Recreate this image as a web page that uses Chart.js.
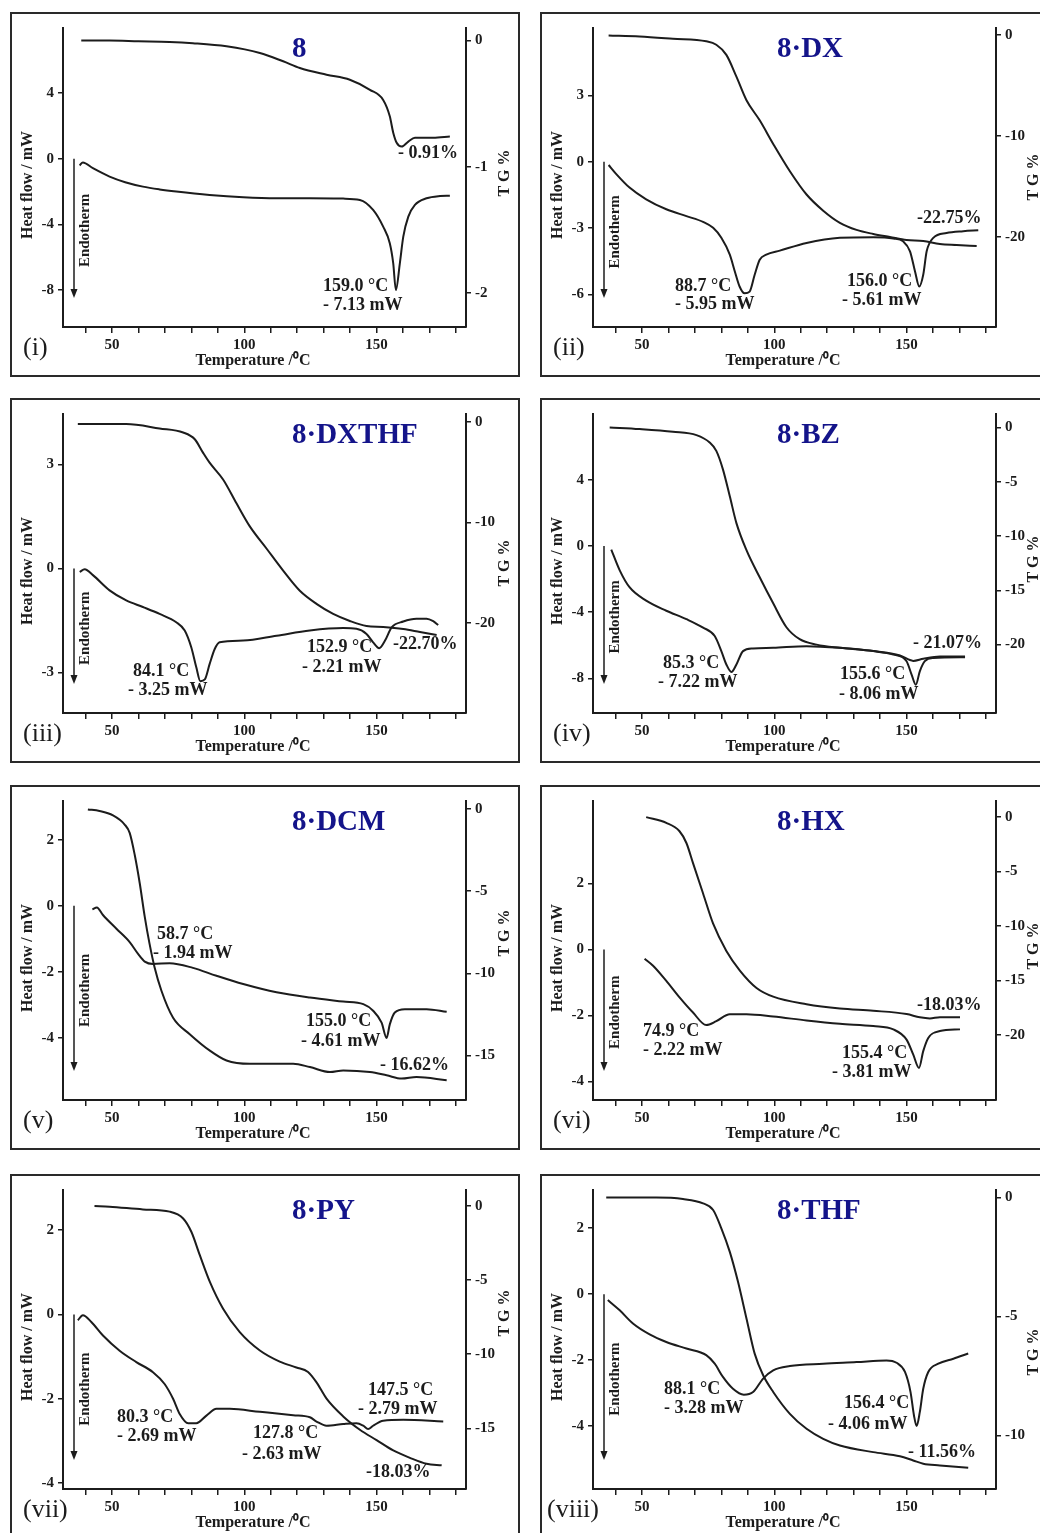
<!DOCTYPE html>
<html>
<head>
<meta charset="utf-8">
<script src="https://cdn.jsdelivr.net/npm/chart.js@4.4.1/dist/chart.umd.min.js"></script>
<style>
html, body { margin: 0; padding: 0; background: #fff; overflow: hidden; }
#page { position: relative; width: 1040px; height: 1533px; overflow: hidden; background: #fff; }
.box { position: absolute; width: 506px; height: 361px; border: 2px solid #2a2a2a; background: #fff; }
.box canvas { display: block; }
</style>
</head>
<body>
<div id="page"></div>
<script>
/* temperature ticks shared by every panel */
const xTicks = [40, 50, 60, 70, 80, 90, 100, 110, 120, 130, 140, 150, 160, 170, 180];

/* (i) 8 */
const dscTempI = [37.8, 39, 42.8, 49.1, 55, 61.7, 68, 74.3, 86.9, 99.6, 112.2, 124.8, 137.4, 143.7, 148.7, 152.5, 155, 156.3, 157.3, 158.8, 160.1, 162, 164.5, 168.9, 174, 177.7];
const dscI = [-0.40, -0.22, -0.57, -1.08, -1.42, -1.69, -1.86, -1.99, -2.20, -2.34, -2.40, -2.40, -2.42, -2.50, -3.11, -4.13, -5.14, -6.36, -7.99, -6.36, -4.74, -3.52, -2.80, -2.40, -2.26, -2.24];
const tgTempI = [38.4, 49.1, 60, 71.8, 80.6, 93.3, 105.9, 114.7, 121, 131.1, 139.9, 147.5, 152.5, 155, 156.3, 157.6, 159.5, 162, 164.5, 171.4, 177.7];
const tgI = [0, 0, -0.005, -0.01, -0.02, -0.045, -0.098, -0.164, -0.217, -0.27, -0.31, -0.39, -0.47, -0.60, -0.73, -0.81, -0.84, -0.80, -0.77, -0.77, -0.76];
const hfTicksI = [-8, -4, 0, 4];
const tgTicksI = [-2, -1, 0];

/* (ii) 8·DX */
const dscTempII = [37.4, 40.3, 45.3, 51.6, 59.2, 66.8, 73.1, 76.9, 80, 83.2, 85.1, 86.9, 88.8, 90.7, 92.6, 94.5, 97, 102.1, 112.2, 124.8, 137.4, 145, 148.7, 151.3, 153.2, 154.8, 156.3, 157.6, 160.1, 165.1, 171.4, 177.1];
const dscII = [-0.15, -0.56, -1.17, -1.70, -2.15, -2.46, -2.72, -2.99, -3.44, -4.20, -4.96, -5.64, -5.95, -5.87, -5.11, -4.43, -4.20, -4.02, -3.67, -3.44, -3.41, -3.47, -3.60, -4.05, -4.96, -5.64, -5.11, -4.05, -3.44, -3.22, -3.14, -3.10];
const tgTempII = [37.4, 49.1, 61.7, 74.3, 78.1, 81.9, 85.7, 89.5, 94.5, 99.6, 105.9, 112.2, 118.5, 124.8, 131.1, 137.4, 143.7, 150, 156.3, 162.6, 168.9, 176.5];
const tgII = [-0.07, -0.17, -0.40, -0.66, -1.0, -2.0, -4.15, -6.48, -8.47, -10.8, -13.5, -15.8, -17.4, -18.6, -19.3, -19.7, -20.0, -20.3, -20.4, -20.7, -20.8, -20.9];
const hfTicksII = [-6, -3, 0, 3];
const tgTicksII = [-20, -10, 0];

/* (iii) 8·DXTHF */
const dscTempIII = [37.8, 39.7, 42.8, 49.1, 55.4, 61.7, 68, 74.3, 77.5, 80, 81.9, 83.4, 85.1, 86.9, 88.8, 90.7, 99.6, 112.2, 124.8, 137.4, 142.4, 146.2, 148.7, 151, 153.2, 155.7, 160.1, 165.1, 168.9, 171.4, 173.3];
const dscIII = [-0.10, -0.02, -0.19, -0.63, -0.92, -1.11, -1.31, -1.55, -1.79, -2.28, -2.86, -3.25, -3.20, -2.76, -2.33, -2.13, -2.08, -1.94, -1.79, -1.72, -1.74, -1.89, -2.13, -2.30, -2.08, -1.70, -1.53, -1.45, -1.45, -1.52, -1.63];
const tgTempIII = [37.1, 55.4, 68, 76.9, 81.3, 84.4, 86.9, 92, 97, 102.1, 108.4, 114.7, 121, 127.3, 133.6, 139.9, 146.2, 152.5, 160.1, 166.4, 172.7];
const tgIII = [-0.23, -0.23, -0.67, -1.07, -1.74, -3.07, -4.07, -5.74, -8.08, -10.4, -12.6, -14.8, -16.8, -18.1, -19.1, -19.8, -20.3, -20.4, -20.6, -20.9, -21.2];
const hfTicksIII = [-3, 0, 3];
const tgTicksIII = [-20, -10, 0];

/* (iv) 8·BZ */
const dscTempIV = [38.4, 41.6, 45.3, 51.6, 59.2, 66.8, 73.1, 77.5, 80, 81.9, 83.8, 85.7, 88.2, 92, 99.6, 112.2, 124.8, 137.4, 145, 150, 151.9, 153.5, 155, 156.9, 160.1, 172.1];
const dscIV = [-0.22, -1.48, -2.5, -3.31, -3.92, -4.43, -4.94, -5.45, -6.36, -7.17, -7.62, -7.17, -6.36, -6.20, -6.16, -6.06, -6.16, -6.36, -6.57, -6.97, -7.78, -8.39, -7.58, -6.97, -6.77, -6.73];
const tgTempIV = [37.8, 49.1, 61.7, 70.6, 75.6, 78.1, 80.6, 83.2, 85.7, 89.5, 94.5, 99.6, 104.6, 109.6, 116, 124.8, 137.4, 147.5, 152.5, 156.3, 162.6, 172.1];
const tgIV = [0, -0.15, -0.40, -0.71, -1.39, -2.16, -3.86, -6.34, -8.81, -11.3, -13.8, -16.2, -18.4, -19.5, -20.0, -20.3, -20.6, -21.0, -21.5, -21.3, -21.1, -21.1];
const hfTicksIV = [-8, -4, 0, 4];
const tgTicksIV = [-20, -15, -10, -5, 0];

/* (v) 8·DCM */
const dscTempV = [42.6, 44.3, 46.6, 51.6, 56.7, 59.8, 62.4, 65.5, 71.8, 80.6, 89.5, 99.6, 112.2, 124.8, 137.4, 145, 148.7, 151.9, 153.8, 155, 156.9, 160.7, 168.9, 176.5];
const dscV = [-0.11, -0.05, -0.28, -0.69, -1.10, -1.45, -1.69, -1.76, -1.74, -1.88, -2.12, -2.37, -2.62, -2.78, -2.90, -2.98, -3.18, -3.54, -4.0, -3.59, -3.23, -3.13, -3.13, -3.21];
const tgTempV = [40.9, 45.3, 50.4, 54.8, 56.7, 58.6, 60.5, 62.4, 64.2, 66.1, 68.7, 73.1, 79.4, 87, 93.3, 102.1, 118.5, 124.8, 132.4, 137.4, 147.5, 153.8, 159.5, 165.1, 176.5];
const tgV = [-0.04, -0.14, -0.41, -0.96, -1.47, -2.80, -4.53, -6.57, -8.20, -9.63, -11.06, -12.7, -13.7, -14.7, -15.3, -15.5, -15.5, -15.7, -16.0, -15.9, -16.0, -16.2, -16.4, -16.3, -16.5];
const hfTicksV = [-4, -2, 0, 2];
const tgTicksV = [-15, -10, -5, 0];

/* (vi) 8·HX */
const dscTempVI = [51, 54.2, 59.2, 64.2, 69.3, 74.3, 78.1, 83.2, 89.5, 99.6, 112.2, 124.8, 137.4, 145, 150, 152.5, 154.7, 156.3, 158.2, 162.6, 170.2];
const dscVI = [-0.28, -0.49, -0.95, -1.45, -1.91, -2.29, -2.17, -1.96, -1.96, -2.03, -2.15, -2.25, -2.32, -2.42, -2.73, -3.18, -3.59, -3.08, -2.68, -2.47, -2.42];
const tgTempVI = [51.6, 59.2, 64.2, 66.8, 69.3, 73.1, 76.9, 81.9, 87, 93.3, 99.6, 112.2, 124.8, 137.4, 150, 155, 158.8, 162.6, 170.2];
const tgVI = [0, -0.53, -1.30, -2.38, -4.23, -7.02, -9.80, -12.3, -14.1, -15.7, -16.5, -17.2, -17.6, -17.8, -18.1, -18.4, -18.5, -18.4, -18.4];
const hfTicksVI = [-4, -2, 0, 2];
const tgTicksVI = [-20, -15, -10, -5, 0];

/* (vii) 8·PY */
const dscTempVII = [37.1, 39, 42.2, 46.6, 52.9, 59.2, 65.5, 69.9, 73.1, 75.6, 78.8, 81.9, 85.7, 89.5, 94.5, 105.9, 118.5, 124.8, 127.3, 131.1, 137.4, 142.4, 145, 146.8, 148.7, 152.5, 160.1, 175.2];
const dscVII = [-0.14, -0.02, -0.18, -0.50, -0.86, -1.13, -1.37, -1.65, -2.0, -2.36, -2.58, -2.58, -2.40, -2.24, -2.24, -2.31, -2.39, -2.44, -2.54, -2.64, -2.60, -2.58, -2.64, -2.72, -2.64, -2.52, -2.50, -2.54];
const tgTempVII = [43.4, 49.1, 61.7, 71.8, 76.9, 80, 83.2, 87, 92, 98.3, 105.9, 113.4, 119.7, 124.1, 127.3, 131.1, 137.4, 143.7, 150, 156.3, 162.6, 168.9, 174.6];
const tgVII = [0, -0.05, -0.23, -0.38, -0.84, -1.74, -3.32, -5.12, -6.93, -8.51, -9.75, -10.5, -10.9, -11.2, -11.9, -13.0, -14.2, -15.1, -15.8, -16.5, -17.0, -17.4, -17.5];
const hfTicksVII = [-4, -2, 0, 2];
const tgTicksVII = [-15, -10, -5, 0];

/* (viii) 8·THF */
const dscTempVIII = [37.1, 41.6, 46.6, 52.9, 59.2, 66.8, 74.3, 77.5, 80.6, 84.4, 88.5, 92, 95.8, 99.6, 105.9, 118.5, 131.1, 142.4, 146.2, 149.4, 151.5, 152.8, 153.8, 155, 156.3, 158.2, 162, 167.7, 173.3];
const dscVIII = [-0.18, -0.49, -0.89, -1.22, -1.45, -1.65, -1.85, -2.11, -2.51, -2.87, -3.05, -2.97, -2.56, -2.31, -2.18, -2.11, -2.06, -2.01, -2.08, -2.36, -2.97, -3.68, -4.0, -3.58, -2.87, -2.36, -2.11, -1.96, -1.80];
const tgTempVIII = [36.5, 55.4, 65.5, 73.1, 76.9, 80, 83.2, 86.3, 89.5, 92.6, 95.8, 99.6, 105.9, 112.2, 118.5, 124.8, 137.4, 147.5, 152.5, 156.3, 162.6, 173.3];
const tgVIII = [0, 0, -0.06, -0.24, -0.52, -1.29, -2.28, -3.54, -5.08, -6.56, -7.47, -8.17, -9.09, -9.72, -10.14, -10.42, -10.70, -10.87, -11.05, -11.19, -11.26, -11.36];
const hfTicksVIII = [-4, -2, 0, 2];
const tgTicksVIII = [-10, -5, 0];

const SERIF = '"Liberation Serif", "Times New Roman", serif';
const INK = '#1c1c1c';
const NAVY = '#14148a';
Chart.defaults.font.family = SERIF;
Chart.defaults.color = INK;

const colX = [10, 540];
const rowY = [12, 398, 785, 1174];

const panels = [
  { tag: '(i)', tagX: 11, name: '8', col: 0, row: 0, dscT: dscTempI, dsc: dscI, tgT: tgTempI, tg: tgI,
    hfTicks: hfTicksI, tgTicks: tgTicksI, hf: [-10.24, 7.97], tgR: [-2.27, 0.10], tgTitleY: 159,
    notes: [['- 0.91%', 386, 144], ['159.0 °C', 311, 277], ['- 7.13 mW', 311, 296]] },
  { tag: '(ii)', tagX: 11, name: '8·DX', col: 1, row: 0, dscT: dscTempII, dsc: dscII, tgT: tgTempII, tg: tgII,
    hfTicks: hfTicksII, tgTicks: tgTicksII, hf: [-7.47, 6.04], tgR: [-28.9, 0.66], tgTitleY: 163,
    notes: [['-22.75%', 375, 209], ['88.7 °C', 133, 277], ['- 5.95 mW', 133, 295], ['156.0 °C', 305, 272], ['- 5.61 mW', 300, 291]] },
  { tag: '(iii)', tagX: 11, name: '8·DXTHF', col: 0, row: 1, dscT: dscTempIII, dsc: dscIII, tgT: tgTempIII, tg: tgIII,
    hfTicks: hfTicksIII, tgTicks: tgTicksIII, hf: [-4.17, 4.46], tgR: [-28.95, 0.77], tgTitleY: 163,
    notes: [['84.1 °C', 121, 276], ['- 3.25 mW', 116, 295], ['152.9 °C', 295, 252], ['- 2.21 mW', 290, 272], ['-22.70%', 381, 249]] },
  { tag: '(iv)', tagX: 11, name: '8·BZ', col: 1, row: 1, dscT: dscTempIV, dsc: dscIV, tgT: tgTempIV, tg: tgIV,
    hfTicks: hfTicksIV, tgTicks: tgTicksIV, hf: [-10.1, 7.97], tgR: [-26.3, 1.24], tgTitleY: 159,
    notes: [['- 21.07%', 371, 248], ['85.3 °C', 121, 268], ['- 7.22 mW', 116, 287], ['155.6 °C', 298, 279], ['- 8.06 mW', 297, 299]] },
  { tag: '(v)', tagX: 11, name: '8·DCM', col: 0, row: 2, dscT: dscTempV, dsc: dscV, tgT: tgTempV, tg: tgV,
    hfTicks: hfTicksV, tgTicks: tgTicksV, hf: [-5.88, 3.17], tgR: [-17.7, 0.47], tgTitleY: 146,
    notes: [['58.7 °C', 145, 152], ['- 1.94 mW', 141, 171], ['155.0 °C', 294, 239], ['- 4.61 mW', 289, 259], ['- 16.62%', 368, 283]] },
  { tag: '(vi)', tagX: 11, name: '8·HX', col: 1, row: 2, dscT: dscTempVI, dsc: dscVI, tgT: tgTempVI, tg: tgVI,
    hfTicks: hfTicksVI, tgTicks: tgTicksVI, hf: [-4.56, 4.50], tgR: [-26.0, 1.48], tgTitleY: 159,
    notes: [['-18.03%', 375, 223], ['74.9 °C', 101, 249], ['- 2.22 mW', 101, 268], ['155.4 °C', 300, 271], ['- 3.81 mW', 290, 290]] },
  { tag: '(vii)', tagX: 11, name: '8·PY', col: 0, row: 3, dscT: dscTempVII, dsc: dscVII, tgT: tgTempVII, tg: tgVII,
    hfTicks: hfTicksVII, tgTicks: tgTicksVII, hf: [-4.14, 2.95], tgR: [-19.1, 1.08], tgTitleY: 137,
    notes: [['80.3 °C', 105, 246], ['- 2.69 mW', 105, 265], ['127.8 °C', 241, 262], ['- 2.63 mW', 230, 283],
            ['147.5 °C', 356, 219], ['- 2.79 mW', 346, 238], ['-18.03%', 354, 301]] },
  { tag: '(viii)', tagX: 5, name: '8·THF', col: 1, row: 3, dscT: dscTempVIII, dsc: dscVIII, tgT: tgTempVIII, tg: tgVIII,
    hfTicks: hfTicksVIII, tgTicks: tgTicksVIII, hf: [-5.91, 3.16], tgR: [-12.25, 0.32], tgTitleY: 176,
    notes: [['88.1 °C', 122, 218], ['- 3.28 mW', 122, 237], ['156.4 °C', 302, 232], ['- 4.06 mW', 286, 253], ['- 11.56%', 366, 281]] }
];

function toPoints(ts, vs) {
  return ts.map((t, i) => ({ x: t, y: vs[i] }));
}

function setTicks(list) {
  return scale => { scale.ticks = list.map(v => ({ value: v })); };
}

function vText(c, txt, x, y) {
  c.save();
  c.translate(x, y);
  c.rotate(-Math.PI / 2);
  c.textAlign = 'center';
  c.textBaseline = 'middle';
  c.fillText(txt, 0, 0);
  c.restore();
}

// titles, labels, arrow and peak notes
function makeDecor(p) {
  return {
    id: 'decor',
    afterDraw(chart) {
      const c = chart.ctx;
      c.save();
      c.fillStyle = INK;
      c.strokeStyle = INK;

      c.font = 'bold 16px ' + SERIF;
      vText(c, 'Heat flow / mW', 16, 171);
      vText(c, 'T G %', p.col ? 492 : 493, p.tgTitleY);
      c.textAlign = 'center';
      c.textBaseline = 'alphabetic';
      c.fillText('Temperature /\u2070C', 241, 351);

      c.font = '26px ' + SERIF;
      c.textAlign = 'left';
      c.fillText(p.tag, p.tagX, 341);

      c.fillStyle = NAVY;
      c.font = 'bold 29px ' + SERIF;
      c.fillText(p.name, p.col ? 235 : 280, 43);

      // endotherm arrow from the 0 mW level down
      c.fillStyle = INK;
      const y0 = chart.scales.y.getPixelForValue(0);
      const ax = 62, ay = 284;
      c.lineWidth = 1.5;
      c.beginPath();
      c.moveTo(ax, y0);
      c.lineTo(ax, ay - 6);
      c.stroke();
      c.beginPath();
      c.moveTo(ax - 3.5, ay - 9);
      c.lineTo(ax + 3.5, ay - 9);
      c.lineTo(ax, ay);
      c.closePath();
      c.fill();
      c.font = 'bold 15px ' + SERIF;
      vText(c, 'Endotherm', 73, (y0 + ay) / 2 + 2);

      c.font = 'bold 18px ' + SERIF;
      c.textAlign = 'left';
      c.textBaseline = 'alphabetic';
      p.notes.forEach(n => c.fillText(n[0], n[1], n[2]));
      c.restore();
    }
  };
}

const axisGrid = { display: true, drawOnChartArea: false, drawTicks: true, tickLength: 5, color: INK, lineWidth: 1.5 };
const axisBorder = { display: true, color: INK, width: 2 };
const tickFont = { family: SERIF, size: 15, weight: 'bold' };

panels.forEach(p => {
  const box = document.createElement('div');
  box.className = 'box';
  box.style.left = colX[p.col] + 'px';
  box.style.top = rowY[p.row] + 'px';
  const cv = document.createElement('canvas');
  cv.width = 506;
  cv.height = 361;
  box.appendChild(cv);
  document.getElementById('page').appendChild(box);

  new Chart(cv.getContext('2d'), {
    type: 'line',
    data: {
      datasets: [
        { label: 'Heat flow', data: toPoints(p.dscT, p.dsc), yAxisID: 'y',
          borderColor: INK, borderWidth: 2, pointRadius: 0, fill: false, cubicInterpolationMode: 'monotone' },
        { label: 'TG', data: toPoints(p.tgT, p.tg), yAxisID: 'y1',
          borderColor: INK, borderWidth: 2, pointRadius: 0, fill: false, cubicInterpolationMode: 'monotone' }
      ]
    },
    options: {
      responsive: false,
      animation: false,
      layout: { padding: { top: 14, left: 0, right: 0, bottom: 0 } },
      plugins: { legend: { display: false }, tooltip: { enabled: false } },
      scales: {
        x: {
          type: 'linear', min: 31.5, max: 183.8, bounds: 'data',
          afterBuildTicks: setTicks(xTicks),
          afterFit: s => { s.height = 48; },
          ticks: { autoSkip: false, maxRotation: 0, padding: 3, font: tickFont, color: INK,
                   callback: v => (v % 50 === 0 ? String(v) : '') },
          grid: Object.assign({}, axisGrid, { tickLength: 6 }),
          border: axisBorder
        },
        y: {
          position: 'left', min: p.hf[0], max: p.hf[1], bounds: 'data',
          afterBuildTicks: setTicks(p.hfTicks),
          afterFit: s => { s.width = 51; },
          ticks: { padding: 4, font: tickFont, color: INK, callback: v => String(v) },
          grid: axisGrid,
          border: axisBorder
        },
        y1: {
          position: 'right', min: p.tgR[0], max: p.tgR[1], bounds: 'data',
          afterBuildTicks: setTicks(p.tgTicks),
          afterFit: s => { s.width = 52; },
          ticks: { padding: 4, font: tickFont, color: INK, callback: v => String(v) },
          grid: axisGrid,
          border: axisBorder
        }
      }
    },
    plugins: [makeDecor(p)]
  });
});
</script>
</body>
</html>
